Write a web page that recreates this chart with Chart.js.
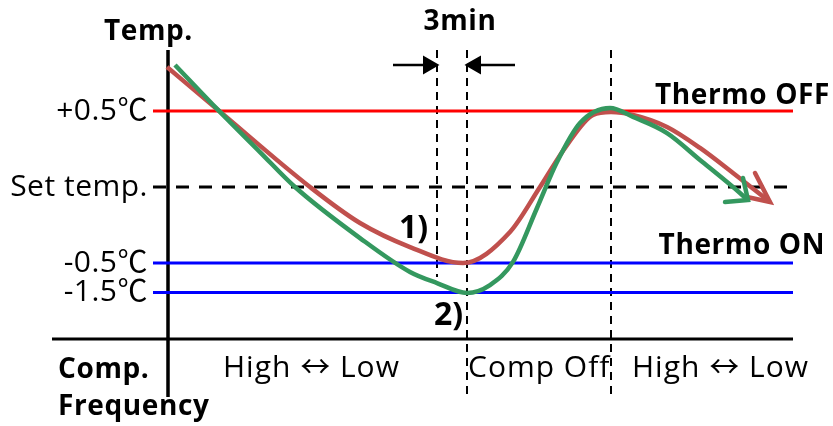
<!DOCTYPE html>
<html>
<head>
<meta charset="utf-8">
<script src="https://cdn.jsdelivr.net/npm/chart.js@4.4.0/dist/chart.umd.min.js"></script>
<style>
  html, body { margin: 0; padding: 0; background: #fff; }
  #wrap { width: 833px; height: 426px; }
</style>
</head>
<body>
<div id="wrap"><canvas id="diagram"></canvas></div>
<script>
// x = time (min), y = schematic temperature level (1 unit ~ 1°C, the -1.5 line is drawn compressed)
const levelValues = [0.5, 0, -0.5, -0.694];
const levelLabels = ['+0.5℃', 'Set temp.', '-0.5℃', '-1.5℃'];

const redT = [-0.1, 5.0, 14.2, 19.2, 24.2, 29.5, 34.2, 37.2, 39.9, 42.5, 44.3, 46.5, 49.9, 53.2, 56.5, 60.2];
const redV = [0.789, 0.507, 0, -0.237, -0.395, -0.5, -0.296, 0, 0.276, 0.474, 0.493, 0.474, 0.395, 0.257, 0.092, -0.099];
const redHeadT = [58.7, 60.2, 57.9];
const redHeadV = [0.092, -0.099, -0.066];

const greenT = [0.7, 5.0, 9.2, 12.7, 19.2, 24.2, 26.9, 29.9, 32.2, 34.5, 36.9, 38.9, 41.2, 44.2, 46.5, 49.9, 53.2, 56.5, 58.0];
const greenV = [0.803, 0.507, 0.230, 0, -0.336, -0.559, -0.632, -0.697, -0.645, -0.493, -0.138, 0.164, 0.421, 0.520, 0.461, 0.355, 0.178, 0, -0.086];
const greenHeadT = [57.5, 58.0, 55.7];
const greenHeadV = [0.059, -0.086, -0.099];

const lineStart = -1.5, lineEnd = 62.5;
const axisTop = 0.901, axisBottom = -1.382, compBase = -1.0, compStart = -11.6;
const stopMarks = [26.9, 29.9, 44.3];
const stopBottoms = [-0.592, -1.382, -1.382];
const arrowLevel = 0.803;
const arrowLeftT = [22.5, 26.05];
const arrowRightT = [34.7, 30.75];

const sections = ['High ↔ Low', 'Comp Off', 'High ↔ Low'];
const sectionStarts = [5.5, 30.0, 46.4];

const FONT = "'Open Sans', 'Noto Sans CJK KR', sans-serif";
const GREEN = '#34985F';
const RED = '#C0504D';

function pts(xs, ys) {
    return xs.map((x, i) => ({ x: x, y: ys[i] }));
}

function hLine(y, color, dash) {
    return {
        data: pts([lineStart, lineEnd], [y, y]),
        borderColor: color, borderWidth: 3, borderDash: dash || [],
        pointRadius: 0, tension: 0
    };
}

const datasets = [
    { data: pts(greenT, greenV), borderColor: GREEN, borderWidth: 4.5, pointRadius: 0, cubicInterpolationMode: 'monotone' },
    { data: pts(greenHeadT, greenHeadV), borderColor: GREEN, borderWidth: 4.5, pointRadius: 0, tension: 0, borderCapStyle: 'round' },
    { data: pts(redT, redV), borderColor: RED, borderWidth: 4.5, pointRadius: 0, cubicInterpolationMode: 'monotone' },
    { data: pts(redHeadT, redHeadV), borderColor: RED, borderWidth: 4.5, pointRadius: 0, tension: 0, borderCapStyle: 'round' },
    hLine(levelValues[0], '#FF0000'),
    hLine(levelValues[1], '#000000', [13, 10]),
    hLine(levelValues[2], '#0000FF'),
    hLine(levelValues[3], '#0000FF'),
    // temperature axis and comp. frequency baseline
    { data: pts([0, 0], [axisTop, axisBottom]), borderColor: '#000', borderWidth: 3.5, pointRadius: 0 },
    { data: pts([compStart, lineEnd], [compBase, compBase]), borderColor: '#000', borderWidth: 3, pointRadius: 0 },
    // 3min arrows
    { data: pts(arrowLeftT, [arrowLevel, arrowLevel]), borderColor: '#000', backgroundColor: '#000', borderWidth: 2.5,
      pointStyle: 'triangle', pointRadius: [0, 8.5], pointRotation: 90 },
    { data: pts(arrowRightT, [arrowLevel, arrowLevel]), borderColor: '#000', backgroundColor: '#000', borderWidth: 2.5,
      pointStyle: 'triangle', pointRadius: [0, 8.5], pointRotation: -90 }
];

stopMarks.forEach((t, i) => {
    datasets.push({
        data: pts([t, t], [axisTop, stopBottoms[i]]),
        borderColor: '#000', borderWidth: 2, borderDash: [8, 6], pointRadius: 0
    });
});

datasets.forEach(d => { d.clip = false; d.fill = false; });

const textPlugin = {
    id: 'diagramText',
    afterDraw(chart) {
        const ctx = chart.ctx;
        const x = chart.scales.x, y = chart.scales.y;
        ctx.save();
        ctx.fillStyle = '#000';
        ctx.textBaseline = 'middle';

        // level labels left of the lines
        ctx.font = '30px ' + FONT;
        ctx.letterSpacing = '0.5px';
        ctx.textAlign = 'right';
        levelValues.forEach((v, i) => {
            ctx.fillText(levelLabels[i], chart.chartArea.left - 5, y.getPixelForValue(v));
        });

        ctx.font = 'bold 28px ' + FONT;
        ctx.letterSpacing = '0.6px';
        ctx.textAlign = 'left';
        ctx.fillText('Temp.', 104, 32);
        ctx.fillText('Comp.', 58, 370);
        ctx.fillText('Frequency', 58, 407);

        ctx.textAlign = 'center';
        ctx.fillText('3min', (x.getPixelForValue(stopMarks[0]) + x.getPixelForValue(stopMarks[1])) / 2 + 8, 22);
        ctx.textAlign = 'right';
        ctx.fillText('Thermo OFF', 830, y.getPixelForValue(levelValues[0]) - 15);
        ctx.fillText('Thermo ON', 825, y.getPixelForValue(levelValues[2]) - 17);

        ctx.font = 'bold 32px ' + FONT;
        ctx.letterSpacing = '0px';
        ctx.textAlign = 'left';
        ctx.fillText('1)', 399, 229);
        ctx.fillText('2)', 434, 316);

        ctx.font = '30px ' + FONT;
        ctx.letterSpacing = '1px';
        sections.forEach((s, i) => {
            ctx.fillText(s, x.getPixelForValue(sectionStarts[i]), 368);
        });
        ctx.restore();
    }
};

new Chart(document.getElementById('diagram'), {
    type: 'line',
    data: { datasets: datasets },
    options: {
        responsive: true,
        maintainAspectRatio: false,
        animation: false,
        devicePixelRatio: 1,
        layout: { autoPadding: false, padding: { left: 153, right: 40, top: 0, bottom: 0 } },
        plugins: { legend: { display: false }, tooltip: { enabled: false } },
        scales: {
            x: { type: 'linear', min: lineStart, max: lineEnd, display: false },
            y: { type: 'linear', min: -1.5724, max: 1.2303, display: false }
        }
    },
    plugins: [textPlugin]
});
</script>
</body>
</html>
